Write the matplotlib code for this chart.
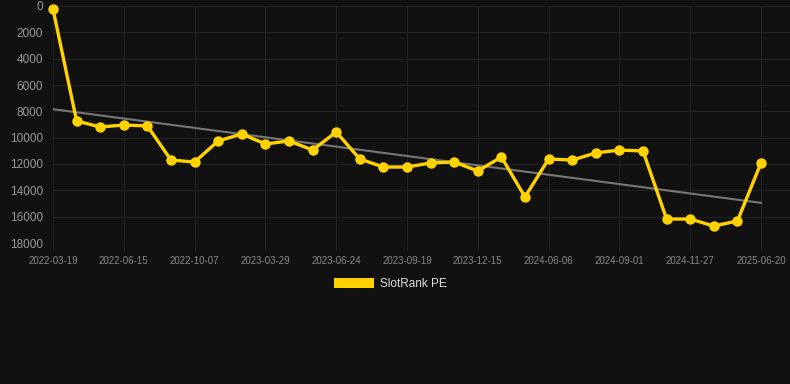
import matplotlib
matplotlib.use("Agg")
import matplotlib.pyplot as plt
from matplotlib.patches import Patch
import numpy as np

plt.rcParams['font.family'] = ['Liberation Sans', 'DejaVu Sans']

tick_labels = ["2022-03-19", "2022-06-15", "2022-10-07", "2023-03-29", "2023-06-24",
               "2023-09-19", "2023-12-15", "2024-06-06", "2024-09-01", "2024-11-27",
               "2025-06-20"]
values = [230, 8730, 9190, 9040, 9110, 11700, 11850, 10250, 9720, 10480,
          10250, 10940, 9570, 11620, 12230, 12230, 11920, 11850, 12530, 11470,
          14500, 11620, 11700, 11160, 10940, 11010, 16180, 16180, 16710, 16330,
          11920]
series_name = "SlotRank PE"

bg = "#111111"
fig = plt.figure(figsize=(7.9, 3.84), dpi=100, facecolor=bg)
ax = fig.add_axes([53/790, (384-243)/384, (790-53)/790, (243-6)/384])
ax.set_facecolor(bg)

x = np.arange(len(values))
coef = np.polyfit(x, values, 1)
trend = np.polyval(coef, x)
ax.plot([x[0], x[-1]], [trend[0], trend[-1]], color="#777777", lw=1.5, zorder=2)
ax.plot(x, values, color="#FFD200", lw=2.4, marker="o", markersize=7.5,
        markeredgewidth=0, zorder=3, label=series_name, clip_on=False)

ax.set_ylim(18000, 0)
ax.set_yticks(np.arange(0, 18001, 2000))
ax.set_xlim(0, (790-53)/23.6)
tick_pos = np.arange(0, len(values), 3)
ax.set_xticks(tick_pos)
ax.set_xticklabels(tick_labels)

ax.grid(True, color="#222222", lw=0.8)
ax.set_axisbelow(True)
for s in ax.spines.values():
    s.set_visible(False)
ax.tick_params(axis='y', length=0, pad=7, labelsize=8.5, labelcolor="#999999")
ax.tick_params(axis='x', length=6, color="#222222", pad=3, labelsize=7, labelcolor="#888888")

leg = fig.legend(handles=[Patch(facecolor="#FFD200", edgecolor="none", label=series_name)],
                 loc="center", bbox_to_anchor=(390/790, 1 - 284/384), frameon=False,
                 handlelength=3.4, handleheight=1.0, fontsize=8.5, handletextpad=0.5)
for t in leg.get_texts():
    t.set_color("#dddddd")

fig.savefig("out.png", dpi=100, facecolor=bg)
